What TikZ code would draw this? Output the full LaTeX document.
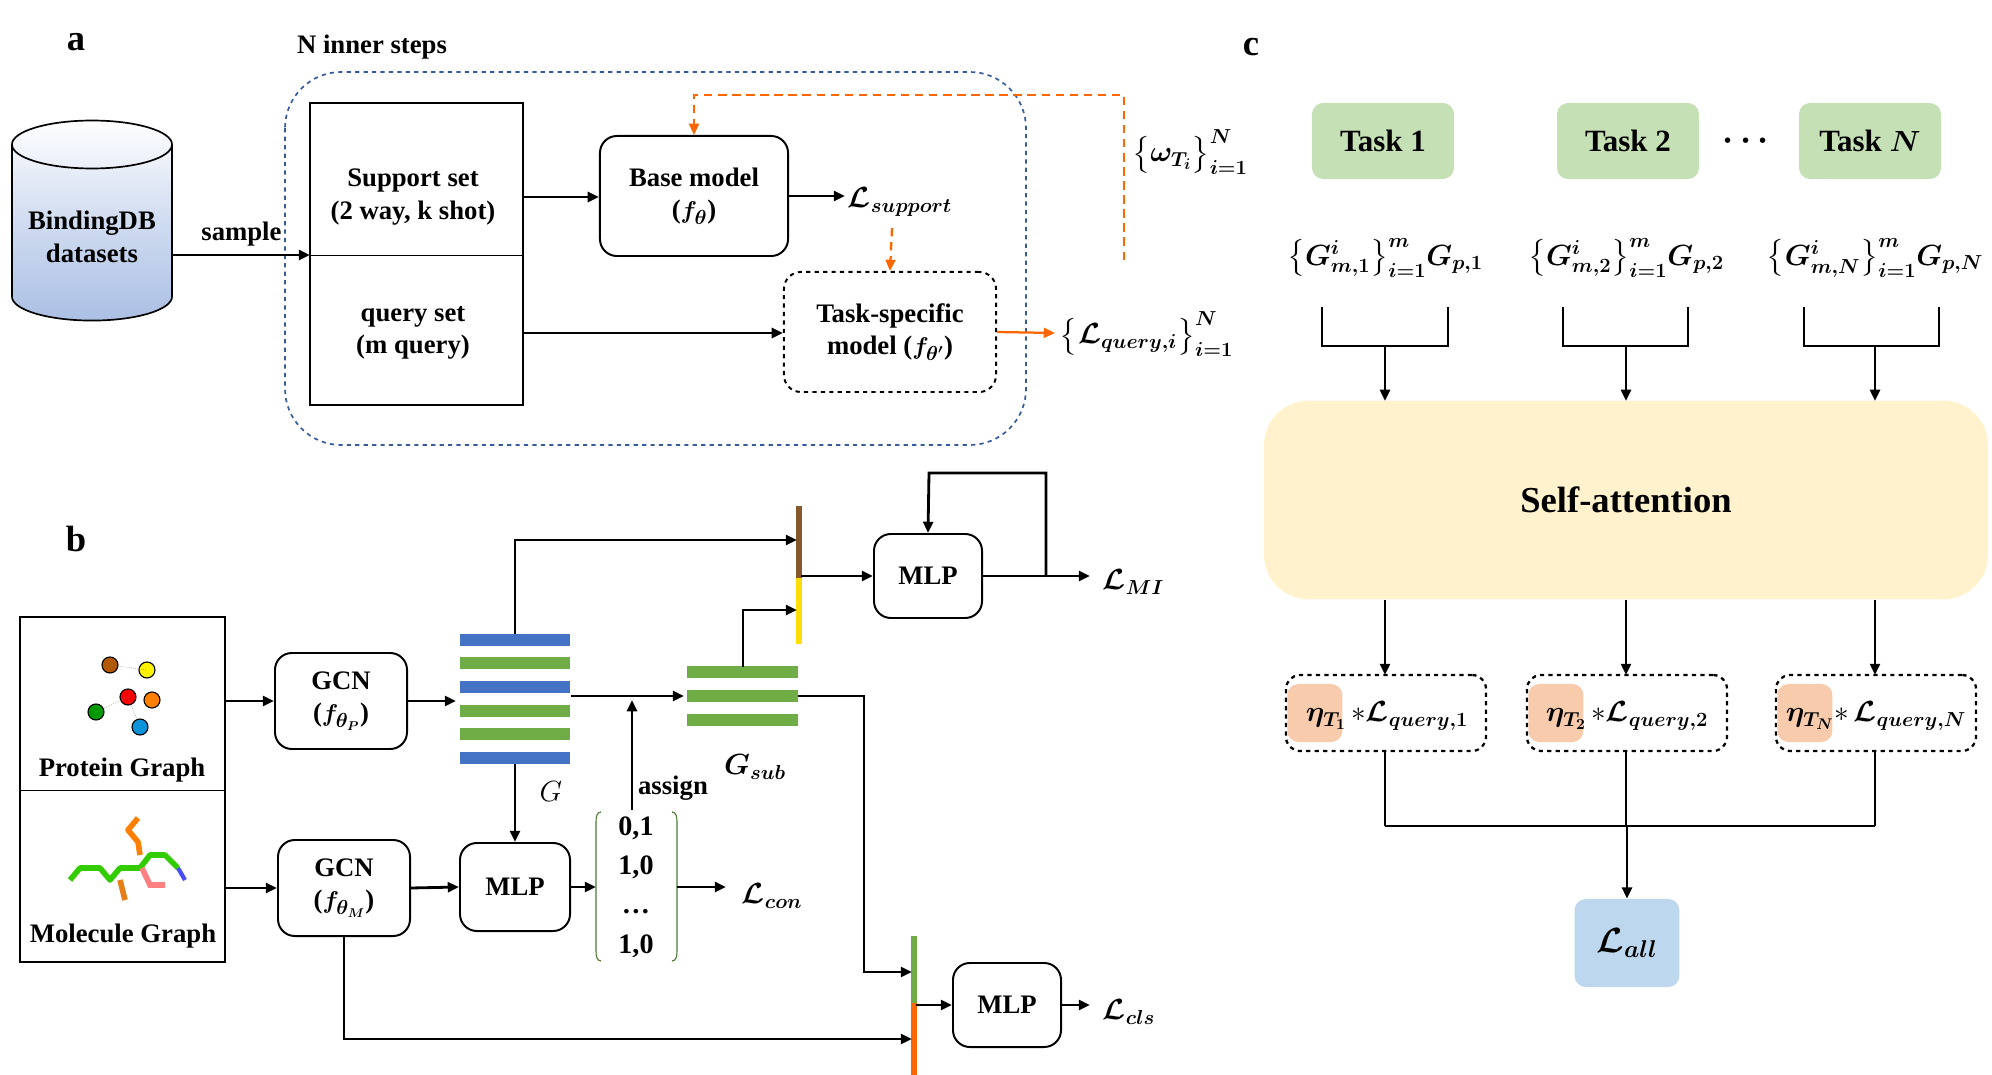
\documentclass[tikz,border=0pt]{standalone}
\usepackage{amsmath,amssymb,bm}
\usepackage{fontspec}
\setmainfont{Liberation Serif}
\usetikzlibrary{arrows.meta, positioning, calc, shapes.geometric}
\tikzstyle{arrow} = [line width=2pt, -{Triangle[length=8pt,width=7pt]}]
\tikzstyle{oarrow} = [line width=1.6pt, dash pattern=on 6pt off 4pt, orange!80!red, -{Triangle[length=8pt,width=7pt]}]
\definecolor{barblue}{HTML}{4472C4}
\definecolor{bargreen}{HTML}{70AD47}
\definecolor{taskgreen}{HTML}{C5E0B4}
\definecolor{attyellow}{HTML}{FFF2CC}
\definecolor{etaorange}{HTML}{F8CBAD}
\definecolor{allblue}{HTML}{BDD7EE}
\newcommand{\Lc}{\bm{\mathcal{L}}}

\begin{document}
\begin{tikzpicture}[x=0.025cm, y=-0.025cm,
    box/.style={rectangle, rounded corners=12pt, draw, line width=1.4pt, align=center, font=\fontsize{19}{23}\selectfont\bfseries},
    lbl/.style={font=\fontsize{19}{23}\selectfont\bfseries},
    mth/.style={font=\fontsize{22}{26}\selectfont},
    bar/.style={line width=9pt},
]
\useasboundingbox (0,0) rectangle (1992,1075);

% ---------------- panel a ----------------
\node[font=\fontsize{26}{30}\selectfont\bfseries] (la) at (76,42) {a};
\node[lbl] (steps) at (372,47) {N inner steps};
\draw[barblue!80!black, line width=1.2pt, dashed, rounded corners=40pt] (285,72) rectangle (1026,445);

% Database
\node[cylinder, shape border rotate=90, aspect=0.35, draw, line width=1.2pt, minimum width=4cm, minimum height=5cm,
      top color=white, bottom color=barblue!45, middle color=barblue!25, align=center, lbl] (db) at (92,237) {BindingDB\\datasets};

% Support / query
\draw[line width=1.4pt] (310,103) rectangle (523,405);
\draw[line width=0.6pt] (310,255) -- (523,255);
\node[lbl, align=center] (support) at (413,197) {Support set\\(2 way, k shot)};
\node[lbl, align=center] (query) at (413,333) {query set\\(m query)};
\coordinate (sqin) at (310,255);
\coordinate (supr) at (523,197);
\coordinate (qryr) at (523,333);

\node[box, minimum width=4.7cm, minimum height=3cm] (base) at (694,196) {Base model\\($\bm{f_\theta}$)};
\node[box, dashed, minimum width=5.3cm, minimum height=3cm] (task) at (890,332) {Task-specific\\model ($\bm{f_{\theta'}}$)};
\node[mth, anchor=west] (lsup) at (843,202) {$\Lc_{\bm{support}}$};
\node[mth, anchor=west] (lqry) at (1055,334) {$\bigl\{\Lc_{\bm{query,i}}\bigr\}_{\bm{i=1}}^{\bm{N}}$};
\node[mth] (omega) at (1190,152) {$\bigl\{\bm{\omega_{T_i}}\bigr\}_{\bm{i=1}}^{\bm{N}}$};

\draw[arrow] (db.east |- sqin) -- node[above=2pt, lbl] {sample} (sqin);
\draw[arrow] (supr) -- (supr -| base.west);
\draw[arrow] (qryr) -- (qryr -| task.west);
\draw[arrow] (base.east |- 0,196) -- (845,196);
\draw[oarrow] (892,228) -- (task.north);
\draw[oarrow, solid] (task.east) -- (1055,333);
\draw[oarrow] (1124,260) |- (694,95) -- (base.north);

% ---------------- panel b ----------------
\node[font=\fontsize{26}{30}\selectfont\bfseries] (lb) at (76,539) {b};
\draw[line width=1.4pt] (20,617) rectangle (225,962);
\draw[line width=0.6pt] (20,790) -- (225,790);
\node[lbl] (prot) at (122,770) {Protein Graph};
\node[lbl] (mol) at (123,936) {Molecule Graph};
% protein sketch
\foreach \x/\y/\c in {110/665/orange!70!black, 147/670/yellow, 128/697/red, 152/700/orange, 96/712/green!60!black, 140/727/cyan!80!blue}
  \draw[fill=\c, line width=0.8pt] (\x,\y) circle (8);
\draw[densely dotted, gray] (110,665) -- (147,670) (128,697) -- (96,712) (128,697) -- (140,727);
% molecule sketch
\draw[line width=4pt, green!60!olive, line join=round] (70,880) -- (80,868) -- (100,868) -- (110,880) -- (120,868) -- (140,868) -- (150,855) -- (165,855) -- (178,868);
\draw[line width=4pt, orange, line join=round] (138,818) -- (128,830) -- (138,842) -- (140,855);
\draw[line width=4pt, orange!60!brown] (120,880) -- (125,900);
\draw[line width=4pt, red!50] (142,868) -- (150,885) -- (165,885);
\draw[line width=3pt, blue!70] (178,868) -- (185,880);

\node[box, minimum width=3.3cm, minimum height=2.4cm] (gcnp) at (341,701) {GCN\\($\bm{f_{\theta_P}}$)};
\node[box, minimum width=3.3cm, minimum height=2.4cm] (gcnm) at (344,888) {GCN\\($\bm{f_{\theta_M}}$)};
\node[box, minimum width=2.75cm, minimum height=2.2cm] (mlpa) at (515,887) {MLP};
\node[box, minimum width=2.7cm, minimum height=2.1cm] (mlpb) at (928,576) {MLP};
\node[box, minimum width=2.7cm, minimum height=2.1cm] (mlpc) at (1007,1005) {MLP};

% G stripes
\foreach \y/\c in {640/barblue, 663/bargreen, 687/barblue, 711/bargreen, 734/bargreen, 758/barblue}
  \draw[bar, \c] (460,\y) -- (570,\y);
\coordinate (gtop) at (515,634);
\coordinate (gbot) at (515,764);
\coordinate (gright) at (571,696);
\node[mth] (glbl) at (551,792) {$G$};
% G_sub stripes
\foreach \y in {672, 696, 720}
  \draw[bar, bargreen] (687,\y) -- (798,\y);
\coordinate (stop) at (743,667);
\coordinate (sright) at (798,696);
\node[mth] (gsub) at (755,767) {$\bm{G_{sub}}$};

% assignment matrix
\node[lbl, align=center, font=\fontsize{20}{28}\selectfont\bfseries] (mat) at (636,887) {0,1\\1,0\\\dots\\1,0};
\draw[bargreen!70!black, line width=0.8pt] (601,812) to[out=180,in=90] (596,822) -- (596,951) to[out=-90,in=180] (601,961);
\draw[bargreen!70!black, line width=0.8pt] (672,812) to[out=0,in=90] (677,822) -- (677,951) to[out=-90,in=0] (672,961);
\coordinate (matl) at (596,887);
\coordinate (matr) at (677,887);
\coordinate (matt) at (632,810);

% bars in front of MLPs
\draw[line width=4pt, brown!70!black] (799,506) -- (799,578);
\draw[line width=4pt, yellow!80!orange] (799,578) -- (799,644);
\draw[line width=4pt, bargreen] (914,936) -- (914,1003);
\draw[line width=4pt, orange!80!red] (914,1003) -- (914,1075);

\node[mth, anchor=west] (lmi) at (1098,582) {$\Lc_{\bm{MI}}$};
\node[mth, anchor=west] (lcon) at (737,896) {$\Lc_{\bm{con}}$};
\node[mth, anchor=west] (lcls) at (1098,1012) {$\Lc_{\bm{cls}}$};

\draw[arrow] (225,701) -- (gcnp.west);
\draw[arrow] (225,888) -- (gcnm.west);
\draw[arrow] (gcnp.east) -- (456,701);
\draw[arrow] (gcnm.east) -- (mlpa.west);
\draw[arrow] (gbot) -- (mlpa.north);
\draw[arrow] (gtop) |- (797,540);
\draw[arrow] (gright) -- (684,696);
\draw[arrow] (mlpa.east) -- (matl);
\draw[arrow] (matr) -- (726,887);
\draw[arrow] (matt) -- node[right, lbl, pos=0.2] {assign} (632,700);
\draw[arrow] (stop) |- (797,610);
\draw[arrow] (801,576) -- (mlpb.west);
\draw[arrow] (mlpb.east) -- (1090,576);
\draw[arrow] (1046,576) |- (929,473) -- (mlpb.north);
\draw[arrow] (sright) -- (864,696) |- (912,972);
\draw[arrow] (gcnm.south) |- (912,1039);
\draw[arrow] (916,1005) -- (mlpc.west);
\draw[arrow] (mlpc.east) -- (1090,1005);

% ---------------- panel c ----------------
\node[font=\fontsize{26}{30}\selectfont\bfseries] (lc) at (1251,47) {c};
\foreach \n/\x/\t in {t1/1383/Task 1, t2/1628/Task 2, tn/1870/Task $\bm{N}$}
  \node[rectangle, rounded corners=8pt, fill=taskgreen, minimum width=3.55cm, minimum height=1.9cm,
        font=\fontsize{22}{26}\selectfont\bfseries] (\n) at (\x,141) {\t};
\node[font=\fontsize{24}{28}\selectfont\bfseries] (dots) at (1749,141) {$\bm\cdots$};

\node[rectangle, rounded corners=32pt, fill=attyellow, minimum width=18.1cm, minimum height=4.97cm,
      font=\fontsize{26}{30}\selectfont\bfseries] (att) at (1626,500) {Self-attention};

\foreach \k/\x/\l/\r/\s in {1/1385/1322/1448/1, 2/1626/1563/1688/2, n/1875/1804/1939/N} {
  \node[mth] (set\k) at (\x,258) {$\bigl\{\bm{G^{i}_{m,\s}}\bigr\}_{\bm{i=1}}^{\bm{m}}\bm{G_{p,\s}}$};
  \draw[line width=1.6pt] (\l,307) |- (\r,346) -- (\r,307);
  \draw[arrow] (\x,346) -- (\x,401);
  \node[rectangle, rounded corners=10pt, draw, dashed, line width=1.6pt, minimum width=5cm, minimum height=1.9cm] (q\k) at (\x+1,713) {};
  \node[rectangle, rounded corners=8pt, fill=etaorange, minimum width=1.38cm, minimum height=1.45cm] (eta\k) at ([xshift=0.75cm]q\k.west) {};
  \draw[arrow] (\x,600) -- (\x,675);
  \draw[line width=1.6pt] (\x,751) -- (\x,826);
}
\node[mth] (e1) at (1387,716) {$\bm{\eta_{T_1}}\,{*}\Lc_{\bm{query,1}}$};
\node[mth] (e2) at (1627,716) {$\bm{\eta_{T_2}}\,{*}\Lc_{\bm{query,2}}$};
\node[mth] (en) at (1876,716) {$\bm{\eta_{T_N}}{*}\,\Lc_{\bm{query,N}}$};

\node[rectangle, rounded corners=8pt, fill=allblue, minimum width=2.62cm, minimum height=2.2cm,
      font=\fontsize{26}{30}\selectfont] (lall) at (1627,943) {$\Lc_{\bm{all}}$};
\draw[line width=1.6pt] (1385,826) -- (1875,826);
\draw[arrow] (1627,826) -- (lall.north);

\end{tikzpicture}
\end{document}
